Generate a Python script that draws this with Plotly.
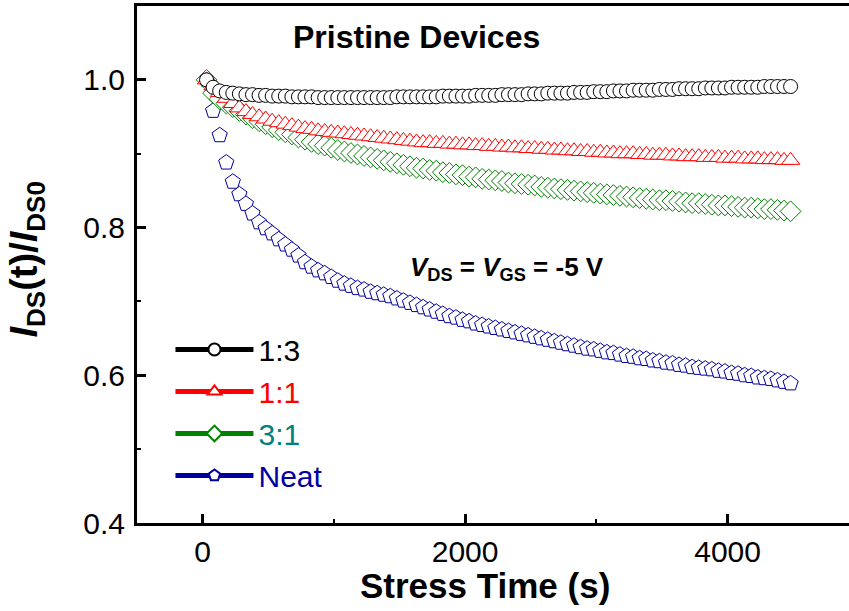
import plotly.graph_objects as go

time_s = [30, 80, 130, 180, 230, 280, 330, 380, 430, 480,
          530, 580, 630, 680, 730, 780, 830, 880, 930, 980,
          1030, 1080, 1130, 1180, 1230, 1280, 1330, 1380, 1430, 1480,
          1530, 1580, 1630, 1680, 1730, 1780, 1830, 1880, 1930, 1980,
          2030, 2080, 2130, 2180, 2230, 2280, 2330, 2380, 2430, 2480,
          2530, 2580, 2630, 2680, 2730, 2780, 2830, 2880, 2930, 2980,
          3030, 3080, 3130, 3180, 3230, 3280, 3330, 3380, 3430, 3480,
          3530, 3580, 3630, 3680, 3730, 3780, 3830, 3880, 3930, 3980,
          4030, 4080, 4130, 4180, 4230, 4280, 4330, 4380, 4430, 4480]

ratio_1_3 = [1.000, 0.990, 0.985, 0.983, 0.982, 0.981, 0.980, 0.980, 0.979, 0.979,
             0.978, 0.978, 0.978, 0.977, 0.977, 0.977, 0.977, 0.976, 0.976, 0.976,
             0.976, 0.976, 0.976, 0.976, 0.976, 0.976, 0.976, 0.976, 0.976, 0.977,
             0.977, 0.977, 0.977, 0.977, 0.977, 0.977, 0.978, 0.978, 0.978, 0.978,
             0.978, 0.979, 0.979, 0.979, 0.979, 0.980, 0.980, 0.980, 0.980, 0.981,
             0.981, 0.981, 0.982, 0.982, 0.982, 0.982, 0.983, 0.983, 0.983, 0.984,
             0.984, 0.984, 0.985, 0.985, 0.985, 0.986, 0.986, 0.986, 0.986, 0.987,
             0.987, 0.987, 0.988, 0.988, 0.988, 0.988, 0.989, 0.989, 0.989, 0.989,
             0.990, 0.990, 0.990, 0.990, 0.990, 0.991, 0.991, 0.991, 0.991, 0.991]

ratio_1_1 = [1.000, 0.992, 0.983, 0.975, 0.968, 0.962, 0.957, 0.953, 0.950, 0.947,
             0.944, 0.942, 0.940, 0.938, 0.936, 0.934, 0.933, 0.931, 0.930, 0.929,
             0.928, 0.927, 0.926, 0.925, 0.924, 0.923, 0.922, 0.921, 0.920, 0.919,
             0.918, 0.917, 0.916, 0.915, 0.915, 0.914, 0.914, 0.913, 0.913, 0.912,
             0.912, 0.911, 0.911, 0.910, 0.910, 0.909, 0.909, 0.908, 0.908, 0.907,
             0.907, 0.906, 0.906, 0.905, 0.905, 0.904, 0.904, 0.903, 0.903, 0.902,
             0.902, 0.901, 0.901, 0.900, 0.900, 0.900, 0.899, 0.899, 0.898, 0.898,
             0.898, 0.897, 0.897, 0.896, 0.896, 0.896, 0.895, 0.895, 0.895, 0.894,
             0.894, 0.894, 0.893, 0.893, 0.893, 0.892, 0.892, 0.892, 0.891, 0.891]

ratio_3_1 = [1.000, 0.982, 0.974, 0.968, 0.963, 0.958, 0.953, 0.948, 0.944, 0.940,
             0.936, 0.932, 0.929, 0.926, 0.922, 0.919, 0.916, 0.913, 0.911, 0.908,
             0.905, 0.903, 0.901, 0.899, 0.897, 0.895, 0.893, 0.891, 0.889, 0.887,
             0.885, 0.883, 0.881, 0.880, 0.878, 0.877, 0.875, 0.874, 0.872, 0.871,
             0.869, 0.868, 0.866, 0.865, 0.864, 0.863, 0.861, 0.860, 0.859, 0.858,
             0.857, 0.855, 0.854, 0.853, 0.852, 0.851, 0.850, 0.849, 0.848, 0.847,
             0.846, 0.845, 0.844, 0.843, 0.842, 0.841, 0.840, 0.839, 0.838, 0.837,
             0.837, 0.836, 0.835, 0.834, 0.833, 0.833, 0.832, 0.831, 0.830, 0.830,
             0.829, 0.828, 0.827, 0.827, 0.826, 0.825, 0.825, 0.824, 0.823, 0.822]

ratio_neat = [1.000, 0.958, 0.925, 0.888, 0.862, 0.845, 0.832, 0.819, 0.807, 0.799,
              0.792, 0.784, 0.777, 0.770, 0.762, 0.753, 0.747, 0.742, 0.738, 0.733,
              0.728, 0.724, 0.721, 0.718, 0.716, 0.713, 0.711, 0.709, 0.707, 0.704,
              0.701, 0.698, 0.695, 0.692, 0.689, 0.686, 0.683, 0.680, 0.678, 0.675,
              0.673, 0.670, 0.668, 0.666, 0.664, 0.662, 0.660, 0.658, 0.656, 0.654,
              0.652, 0.650, 0.648, 0.646, 0.644, 0.642, 0.640, 0.638, 0.636, 0.635,
              0.633, 0.631, 0.630, 0.628, 0.626, 0.625, 0.623, 0.622, 0.620, 0.619,
              0.617, 0.616, 0.614, 0.613, 0.611, 0.610, 0.609, 0.608, 0.606, 0.605,
              0.603, 0.602, 0.600, 0.599, 0.597, 0.596, 0.595, 0.593, 0.591, 0.589]

series_names = ["1:3", "1:1", "3:1", "Neat"]
series_values = [ratio_1_3, ratio_1_1, ratio_3_1, ratio_neat]
line_colors = ["#000000", "#ff0000", "#008000", "#0000a0"]
text_colors = ["#000000", "#ff0000", "#008080", "#0000a0"]
symbols = ["circle", "triangle-up", "diamond", "pentagon"]
sizes = [14, 16, 16, 16]

FONT = "Arial, Liberation Sans, sans-serif"

fig = go.Figure()

# data markers (draw Neat first so others overlay)
for i in [3, 2, 1, 0]:
    fig.add_trace(go.Scatter(
        x=time_s, y=series_values[i], mode="markers",
        marker=dict(symbol=symbols[i], size=sizes[i], color="white",
                    line=dict(color=line_colors[i], width=1)),
        showlegend=False, hoverinfo="skip"))

# legend entries
for i in range(4):
    fig.add_trace(go.Scatter(
        x=[None], y=[None], mode="lines+markers",
        name=f"<span style='color:{text_colors[i]}'>{series_names[i]}</span>",
        line=dict(color=line_colors[i], width=4),
        marker=dict(symbol=symbols[i], size=15, color="white",
                    line=dict(color=line_colors[i], width=1))))

fig.update_layout(
    width=849, height=611,
    margin=dict(l=137, r=0, t=6, b=88),
    paper_bgcolor="white", plot_bgcolor="white",
    font=dict(family=FONT, color="black"),
    showlegend=True,
    legend=dict(x=0.047, y=0.386, xanchor="left", yanchor="top",
                bgcolor="rgba(0,0,0,0)", font=dict(size=30, family=FONT),
                itemwidth=78, tracegroupgap=0, itemsizing="constant"),
    xaxis=dict(range=[-500, 4925], tickvals=[0, 2000, 4000],
               ticks="inside", ticklen=9, tickwidth=2.5, tickcolor="black",
               minor=dict(dtick=1000, tick0=0, ticks="inside", ticklen=4,
                          tickwidth=2, tickcolor="black"),
               showline=True, linewidth=3, linecolor="black", mirror=True,
               showgrid=False, zeroline=False,
               tickfont=dict(size=30, family=FONT), ticklabelstandoff=0),
    yaxis=dict(range=[0.4, 1.1], tickvals=[0.4, 0.6, 0.8, 1.0], tickformat=".1f",
               ticks="inside", ticklen=9, tickwidth=2.5, tickcolor="black",
               minor=dict(dtick=0.1, tick0=0.4, ticks="inside", ticklen=4,
                          tickwidth=2, tickcolor="black"),
               showline=True, linewidth=3, linecolor="black", mirror=False,
               showgrid=False, zeroline=False,
               tickfont=dict(size=30, family=FONT), ticklabelstandoff=3),
)

fig.add_annotation(text="<b>Pristine Devices</b>", xref="paper", yref="paper",
                   x=0.393, y=0.94, xanchor="center", yanchor="middle", showarrow=False,
                   font=dict(size=32, family=FONT, color="black"))
fig.add_annotation(text="<b><i>V</i><sub>DS</sub> = <i>V</i><sub>GS</sub> = -5 V</b>",
                   xref="paper", yref="paper", x=0.52, y=0.492, xanchor="center",
                   yanchor="middle", showarrow=False,
                   font=dict(size=26, family=FONT, color="black"))
fig.add_annotation(text="<b>Stress Time (s)</b>", xref="paper", yref="paper",
                   x=0.489, y=-0.12, xanchor="center", yanchor="middle", showarrow=False,
                   font=dict(size=35, family=FONT, color="black"))
fig.add_annotation(
    text="<b><i>I</i><sub><span style='font-size:26px'>DS</span></sub>(t)/"
         "<i>I</i><sub><span style='font-size:26px'>DS0</span></sub></b>",
    xref="paper", yref="paper", x=-0.155, y=0.509, xanchor="center", yanchor="middle",
    showarrow=False, textangle=-90, font=dict(size=38, family=FONT, color="black"))

fig.write_html("out.html")
